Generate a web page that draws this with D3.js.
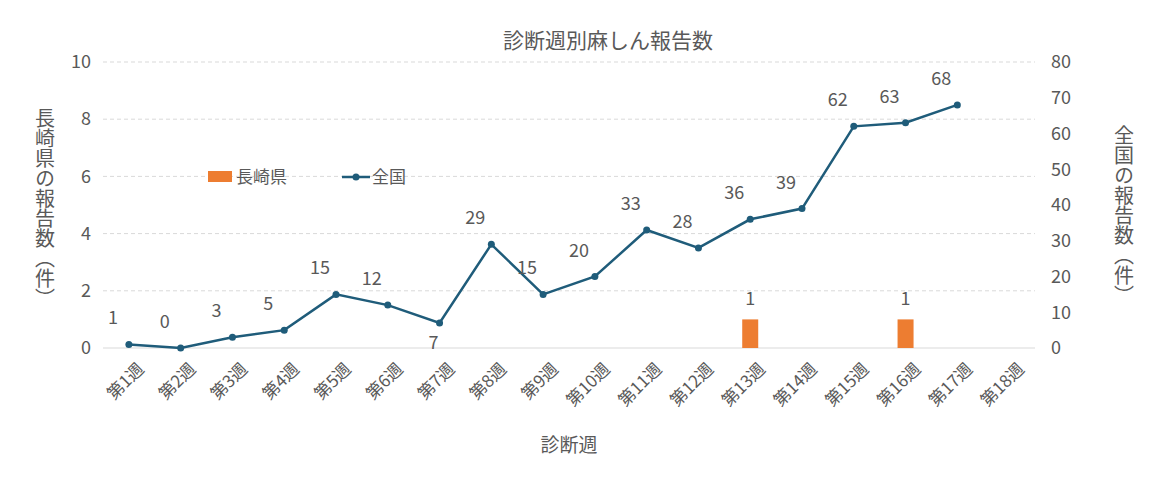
<!DOCTYPE html>
<html><head><meta charset="utf-8">
<script src="https://cdn.jsdelivr.net/npm/d3@7"></script>
<style>body{margin:0;background:#fff}text{font-family:"Noto Sans CJK JP",sans-serif;fill:#595959}</style>
</head><body><svg id="c" width="1162" height="499"></svg>
<script>
const categories=["第1週","第2週","第3週","第4週","第5週","第6週","第7週","第8週","第9週","第10週","第11週","第12週","第13週","第14週","第15週","第16週","第17週","第18週"];
const nagasaki=[0,0,0,0,0,0,0,0,0,0,0,0,1,0,0,1,0,0];
const national=[1,0,3,5,15,12,7,29,15,20,33,28,36,39,62,63,68,null];
const leftTicks=[0,2,4,6,8,10];
const rightTicks=[0,10,20,30,40,50,60,70,80];
const svg=d3.select("#c");
const L=103,R=1035,T=62,B=348;
const x=d3.scaleBand().domain(categories).range([L,R]);
const yl=d3.scaleLinear().domain([0,10]).range([B,T]);
const yr=d3.scaleLinear().domain([0,80]).range([B,T]);
const orange="#ED7D31",blue="#1F5C7A";
svg.append("g").selectAll("line").data(leftTicks.slice(1)).join("line")
 .attr("x1",L).attr("x2",R).attr("y1",d=>yl(d)).attr("y2",d=>yl(d))
 .attr("stroke","#d9d9d9").attr("stroke-dasharray","4,3");
svg.append("line").attr("x1",L).attr("x2",R).attr("y1",B).attr("y2",B).attr("stroke","#d9d9d9");
const la=svg.append("g").attr("transform",`translate(${L-8},0)`).call(d3.axisLeft(yl).tickValues(leftTicks).tickSize(0));
la.select(".domain").remove();la.selectAll("text").attr("font-size",18).attr("x",-4);
const ra=svg.append("g").attr("transform",`translate(${R+12},0)`).call(d3.axisRight(yr).tickValues(rightTicks).tickSize(0));
ra.select(".domain").remove();ra.selectAll("text").attr("font-size",18).attr("x",4);
const xa=svg.append("g").attr("transform",`translate(0,${B})`).call(d3.axisBottom(x).tickSize(0));
xa.select(".domain").remove();
xa.selectAll("text").attr("font-size",17).attr("text-anchor","end").attr("dy",0)
 .attr("transform",function(){return "translate(14,20) rotate(-45)";});
const bw=16;
svg.append("g").selectAll("rect").data(categories.map((c,i)=>({c,v:nagasaki[i]})).filter(d=>d.v>0)).join("rect")
 .attr("x",d=>x(d.c)+x.bandwidth()/2-bw/2).attr("width",bw).attr("y",d=>yl(d.v)).attr("height",d=>B-yl(d.v)).attr("fill",orange);
svg.append("g").selectAll("text").data(categories.map((c,i)=>({c,v:nagasaki[i]})).filter(d=>d.v>0)).join("text")
 .attr("x",d=>x(d.c)+x.bandwidth()/2).attr("y",d=>yl(d.v)-14).attr("text-anchor","middle").attr("font-size",18).text(d=>d.v);
const pts=categories.map((c,i)=>({c,v:national[i],i})).filter(d=>d.v!==null);
const cx=d=>x(d.c)+x.bandwidth()/2;
svg.append("path").datum(pts).attr("fill","none").attr("stroke",blue).attr("stroke-width",2.5)
 .attr("d",d3.line().x(cx).y(d=>yr(d.v)));
svg.append("g").selectAll("circle").data(pts).join("circle").attr("cx",cx).attr("cy",d=>yr(d.v)).attr("r",3.5).attr("fill",blue);
svg.append("g").selectAll("text").data(pts).join("text")
 .attr("x",d=>cx(d)-(d.v===7?6:16)).attr("y",d=>yr(d.v)+(d.v===7?26:-20))
 .attr("text-anchor","middle").attr("font-size",18).text(d=>d.v);
svg.append("text").attr("x",608).attr("y",48).attr("text-anchor","middle").attr("font-size",21).text("診断週別麻しん報告数");
svg.append("text").attr("x",569).attr("y",452).attr("text-anchor","middle").attr("font-size",19).text("診断週");
svg.append("text").attr("x",45).attr("y",108).attr("font-size",20).style("writing-mode","vertical-rl").text("長崎県の報告数（件）");
svg.append("text").attr("x",1124).attr("y",125).attr("font-size",20).style("writing-mode","vertical-rl").text("全国の報告数（件）");
const lg=svg.append("g");
lg.append("rect").attr("x",208).attr("y",171).attr("width",24).attr("height",11).attr("fill",orange);
lg.append("text").attr("x",236).attr("y",183).attr("font-size",17).text("長崎県");
lg.append("line").attr("x1",342).attr("x2",370).attr("y1",177).attr("y2",177).attr("stroke",blue).attr("stroke-width",2.5);
lg.append("circle").attr("cx",356).attr("cy",177).attr("r",3.5).attr("fill",blue);
lg.append("text").attr("x",372).attr("y",183).attr("font-size",17).text("全国");
</script></body></html>
